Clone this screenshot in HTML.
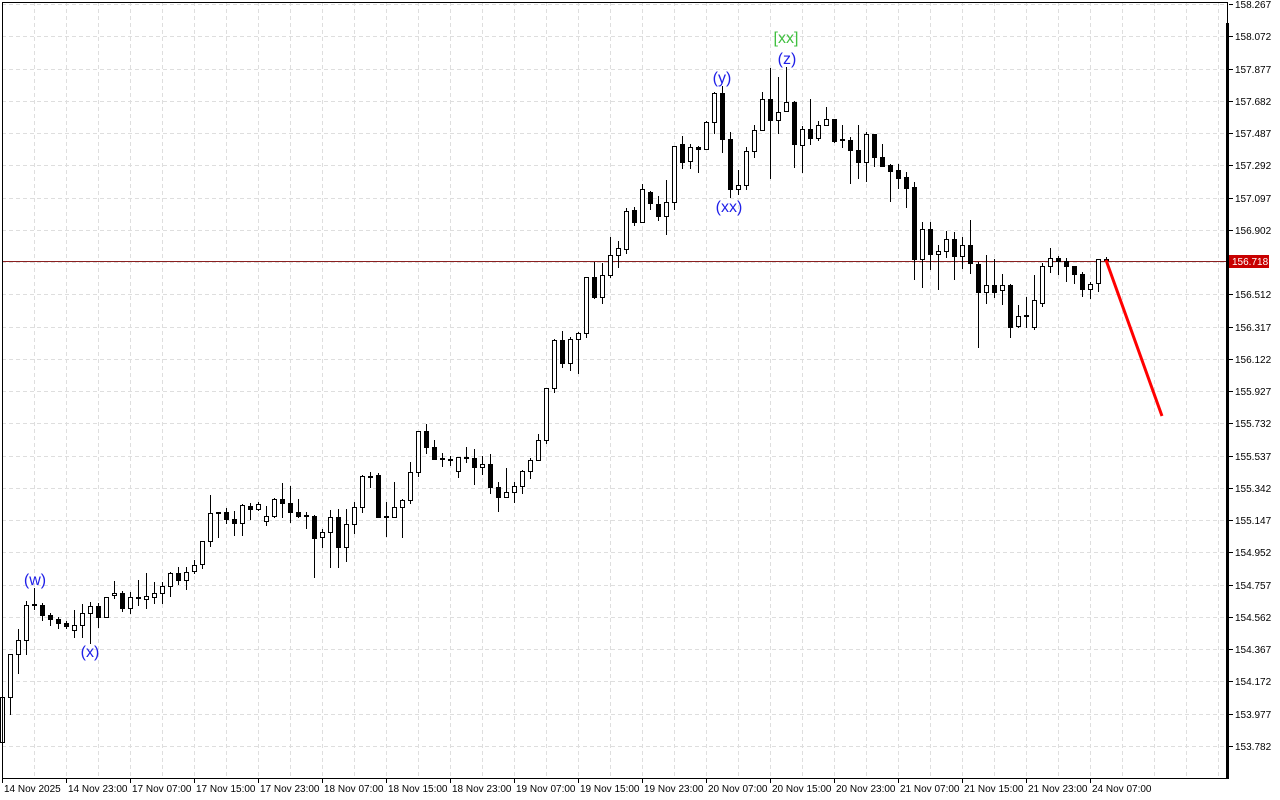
<!DOCTYPE html>
<html><head><meta charset="utf-8"><style>
html,body{margin:0;padding:0;background:#fff;width:1280px;height:800px;overflow:hidden}
svg{display:block}
text{font-family:"Liberation Sans",sans-serif}
</style></head><body>
<svg id="s" width="1280" height="800" xmlns="http://www.w3.org/2000/svg"></svg>
<script>
var D=[
[742,697,695,778],[697,654,654,714],[654,640,629,673],[640,605,601,654],[605,604,588,609],
[605,615,603,620],[615,619,613,625],[619,623,617,628],[623,626,621,628],[630,625,610,637],
[625,613,604,637],[613,606,602,643],[606,617,603,627],[617,597,597,617],[595,593,581,598],
[593,608,591,611],[608,597,592,613],[598,597,580,605],[599,596,573,608],[597,593,582,603],
[593,586,582,603],[586,573,572,596],[573,580,567,584],[580,572,567,589],[571,565,560,573],
[564,541,541,568],[541,513,495,546],[513,512,512,537],[512,519,508,523],[519,523,511,535],
[523,505,504,535],[506,509,503,519],[509,504,502,510],[521,516,506,525],[516,499,498,517],
[499,503,483,517],[503,512,486,522],[512,516,499,517],[516,515,512,528],[516,538,515,577],
[537,532,529,547],[532,517,510,567],[517,547,509,567],[547,524,509,561],[524,507,502,533],
[507,476,475,512],[476,477,472,487],[475,517,473,517],[517,516,502,536],[517,507,482,517],
[507,500,499,537],[500,472,462,503],[472,431,431,476],[431,447,424,453],[447,459,440,459],
[459,458,453,466],[459,460,456,465],[471,457,457,477],[458,457,447,462],[458,467,449,484],
[467,464,456,474],[464,487,454,493],[487,497,482,511],[497,492,468,497],[492,486,482,502],
[486,471,470,493],[471,460,458,478],[460,440,434,455],[440,388,388,443],[388,340,339,392],
[340,363,331,367],[363,339,337,370],[339,333,332,373],[333,277,277,337],[277,297,262,298],
[297,275,263,303],[275,255,237,277],[255,248,241,267],[249,211,208,253],[210,222,207,225],
[222,189,184,222],[192,203,191,209],[204,216,196,220],[216,202,180,234],[202,146,146,209],
[144,162,136,168],[161,147,144,168],[147,149,146,172],[149,122,121,149],[122,93,92,133],
[93,139,86,152],[139,189,132,197],[189,185,170,194],[185,151,147,189],[151,130,125,157],
[130,99,92,130],[99,120,68,178],[120,112,77,133],[111,102,67,111],[102,144,101,167],
[145,129,126,172],[129,138,99,144],[138,125,121,140],[125,119,107,125],[119,141,119,142],
[140,139,125,147],[140,150,137,183],[150,162,125,178],[162,134,132,181],[134,157,134,166],
[157,166,144,166],[165,171,164,201],[170,178,164,188],[177,188,172,207],[187,259,182,279],
[259,229,222,287],[229,254,222,269],[254,251,245,289],[251,239,231,257],[239,256,232,279],
[256,245,237,268],[245,263,220,273],[264,292,262,347],[292,285,255,303],[285,292,259,297],
[290,285,274,304],[285,327,284,337],[326,316,305,327],[316,315,297,327],[327,300,275,329],
[303,266,263,306],[266,258,248,272],[258,261,256,274],[261,266,258,281],[266,274,266,283],
[274,289,272,296],[289,284,282,298],[283,259,259,291],[260,259,257,261]
];
var s='';
// grid
for(var i=0;i<24;i++){var y=Math.round(4+32.26*i)+0.5;s+='<line x1="2" y1="'+y+'" x2="1226" y2="'+y+'" stroke="#dedede" stroke-dasharray="4,3"/>';}
for(var x=34;x<1226;x+=32){s+='<line x1="'+(x+0.5)+'" y1="2" x2="'+(x+0.5)+'" y2="778" stroke="#dedede" stroke-dasharray="4,3"/>';}
// current price line
s+='<line x1="2" y1="261.5" x2="1226" y2="261.5" stroke="#8a2020" stroke-width="1"/>';
// candles
for(var k=0;k<D.length;k++){var d=D[k],cx=2+8*k,o=d[0],c=d[1],h=d[2],l=d[3];
 s+='<line x1="'+(cx+0.5)+'" y1="'+h+'" x2="'+(cx+0.5)+'" y2="'+(l+1)+'" stroke="#000"/>';
 var t=Math.min(o,c),b=Math.max(o,c);
 if(b-t<1){s+='<line x1="'+(cx-2)+'" y1="'+(t+0.5)+'" x2="'+(cx+3)+'" y2="'+(t+0.5)+'" stroke="#000"/>';}
 else{s+='<rect x="'+(cx-1.5)+'" y="'+(t+0.5)+'" width="4" height="'+(b-t)+'" fill="'+(c>o?'#000':'#fff')+'" stroke="#000"/>';}
}
// red forecast
s+='<line x1="1106" y1="260" x2="1162" y2="416" stroke="#f00" stroke-width="3"/>';
// frame
s+='<rect x="2.5" y="2.5" width="1225" height="776" fill="none" stroke="#000"/>';
s+='<rect x="1226" y="23" width="3" height="756" fill="#000"/>';
// price labels
var P=['158.267','158.072','157.877','157.682','157.487','157.292','157.097','156.902','','156.512','156.317','156.122','155.927','155.732','155.537','155.342','155.147','154.952','154.757','154.562','154.367','154.172','153.977','153.782'];
for(var i=0;i<24;i++){var y=Math.round(4+32.26*i);s+='<line x1="1229" y1="'+(y+0.5)+'" x2="1233" y2="'+(y+0.5)+'" stroke="#000"/>';if(P[i])s+='<text x="1235" y="'+(y+4)+'" font-size="10" fill="#000">'+P[i]+'</text>';}
s+='<rect x="1229" y="255" width="40" height="13" fill="#c80000"/><text x="1232" y="265" font-size="10" fill="#fff">156.718</text>';
// time labels
var T=['14 Nov 2025','14 Nov 23:00','17 Nov 07:00','17 Nov 15:00','17 Nov 23:00','18 Nov 07:00','18 Nov 15:00','18 Nov 23:00','19 Nov 07:00','19 Nov 15:00','19 Nov 23:00','20 Nov 07:00','20 Nov 15:00','20 Nov 23:00','21 Nov 07:00','21 Nov 15:00','21 Nov 23:00','24 Nov 07:00'];
for(var i=0;i<T.length;i++){var x=2+64*i;s+='<line x1="'+(x+0.5)+'" y1="779" x2="'+(x+0.5)+'" y2="783" stroke="#000"/><text x="'+(x+2)+'" y="792" font-size="10" fill="#000">'+T[i]+'</text>';}
// wave labels
function L(x,y,t,c){s+='<text x="'+x+'" y="'+y+'" font-size="16" fill="'+c+'" text-anchor="middle">'+t+'</text>';}
L(35,585,'(w)','#2020e8');L(90,657,'(x)','#2020e8');L(722,83,'(y)','#2020e8');L(729,212,'(xx)','#2020e8');L(787,64,'(z)','#2020e8');L(786,43,'[xx]','#40c040');
document.getElementById('s').innerHTML=s;
</script>
</body></html>
